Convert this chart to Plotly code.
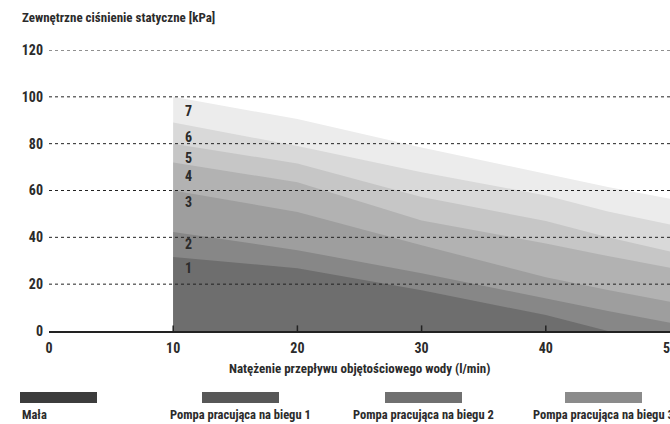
import plotly.graph_objects as go

# ---- data ----
flow = [10, 20, 30, 40, 45, 50]
curve_1 = [31.6, 26.8, 17.4, 6.8, 0.0, 0.0]
curve_2 = [42.3, 34.5, 24.7, 14.0, 8.5, 3.5]
curve_3 = [60.0, 50.8, 36.6, 23.0, 17.5, 12.5]
curve_4 = [72.0, 63.5, 47.2, 37.4, 32.0, 27.0]
curve_5 = [80.0, 71.5, 57.2, 47.0, 40.0, 34.0]
curve_6 = [89.0, 79.0, 67.8, 57.9, 51.0, 45.5]
curve_7 = [100.0, 90.5, 78.4, 67.0, 61.5, 56.5]
curve_names = ["1", "2", "3", "4", "5", "6", "7"]
curve_label_y = [26.8, 37.0, 55.0, 66.4, 74.0, 83.0, 94.0]
band_colors = ["#6e6e6e", "#878787", "#9e9e9e", "#b2b2b2", "#c6c6c6", "#d9d9d9", "#ececec"]

y_ticks = [0, 20, 40, 60, 80, 100, 120]
x_ticks = [0, 10, 20, 30, 40, 50]

legend_labels = ["Mała", "Pompa pracująca na biegu 1", "Pompa pracująca na biegu 2",
                 "Pompa pracująca na biegu 3"]
legend_colors = ["#3c3c3c", "#575757", "#707070", "#8b8b8b"]

FONT = "Roboto Condensed, DejaVu Sans Condensed, sans-serif"
TXT = "#2b2b2b"

curves = [curve_1, curve_2, curve_3, curve_4, curve_5, curve_6, curve_7]

fig = go.Figure()
# draw from top (7) to bottom (1) so lower bands overlay
for name, ys, col in reversed(list(zip(curve_names, curves, band_colors))):
    fig.add_trace(go.Scatter(
        x=flow, y=ys, mode="lines", fill="tozeroy",
        line=dict(width=0, color=col), fillcolor=col,
        name=name, showlegend=False, hoverinfo="skip"))

# band labels
for name, ly in zip(curve_names, curve_label_y):
    fig.add_annotation(x=11.2, y=ly, text=name, showarrow=False,
                       font=dict(family=FONT, size=14, color=TXT, weight="bold"),
                       xanchor="center", yanchor="middle")

shapes = []
# dotted gridlines above the fills
for t in y_ticks[1:]:
    shapes.append(dict(type="line", xref="paper", yref="y", x0=0, x1=1, y0=t, y1=t,
                       line=dict(color="#222222", width=1, dash="dot"), layer="above"))
# tick marks (inside)
for t in x_ticks[1:-1]:
    shapes.append(dict(type="line", xref="x", yref="paper", x0=t, x1=t, y0=0, y1=0.02,
                       line=dict(color="#222222", width=1.5), layer="above"))

# legend (custom: swatch above label)
leg_x0_px = [20, 202, 385, 565]
plot_l, plot_w, plot_b, plot_h = 49, 621, 331, 281
for i, (lab, col) in enumerate(zip(legend_labels, legend_colors)):
    x0 = (leg_x0_px[i] - plot_l) / plot_w
    x1 = (leg_x0_px[i] + 77 - plot_l) / plot_w
    y0 = (plot_b - 392) / plot_h
    y1 = (plot_b - 403) / plot_h
    shapes.append(dict(type="rect", xref="paper", yref="paper", x0=x0, x1=x1, y0=y0, y1=y1,
                       fillcolor=col, line=dict(width=0)))
    fig.add_annotation(xref="paper", yref="paper",
                       x=x0 if i == 0 else (x0 + x1) / 2, y=(plot_b - 414) / plot_h,
                       text=lab, showarrow=False,
                       xanchor="left" if i == 0 else "center", yanchor="middle",
                       font=dict(family=FONT, size=12.5, color=TXT, weight="bold"))

# axis titles
fig.add_annotation(xref="paper", yref="paper", x=(20 - plot_l) / plot_w, y=(plot_b - 17) / plot_h,
                   text="Zewnętrzne ciśnienie statyczne [kPa]", showarrow=False,
                   xanchor="left", yanchor="middle",
                   font=dict(family=FONT, size=13, color=TXT, weight="bold"))
fig.add_annotation(xref="paper", yref="paper", x=0.5, y=(plot_b - 368) / plot_h,
                   text="Natężenie przepływu objętościowego wody (l/min)", showarrow=False,
                   xanchor="center", yanchor="middle",
                   font=dict(family=FONT, size=13, color=TXT, weight="bold"))

fig.update_layout(
    width=670, height=424,
    margin=dict(l=49, r=0, t=50, b=93, autoexpand=False),
    paper_bgcolor="white", plot_bgcolor="white",
    font=dict(family=FONT, size=13, color=TXT),
    shapes=shapes,
    showlegend=False,
    xaxis=dict(range=[0, 50], tickvals=x_ticks, ticks="", showgrid=False, zeroline=False,
               showline=True, linecolor="#222222", linewidth=2, fixedrange=True,
               automargin=False, ticklabeloverflow="allow", ticklabelstandoff=3,
               tickfont=dict(family=FONT, size=14, color=TXT, weight="bold")),
    yaxis=dict(range=[0, 120], tickvals=y_ticks, ticks="", showgrid=False, zeroline=False,
               showline=False, ticklabelstandoff=5, fixedrange=True, automargin=False,
               tickfont=dict(family=FONT, size=14, color=TXT, weight="bold")),
)

fig.write_html("out.html", config={"displayModeBar": False},
               post_script="document.body.style.margin='0';")
